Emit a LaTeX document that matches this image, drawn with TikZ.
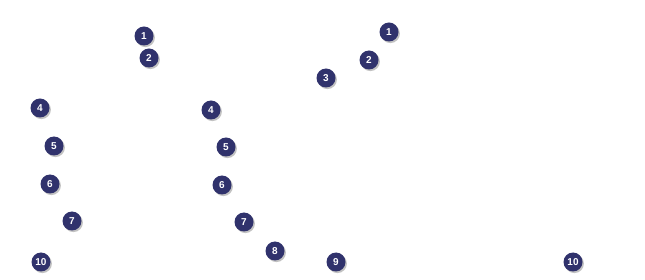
\documentclass[tikz,border=0pt]{standalone}
\usepackage{fontspec}
\setsansfont{Liberation Sans}
\usetikzlibrary{shadows}
\definecolor{badgeblue}{RGB}{48,50,108}

\begin{document}
\begin{tikzpicture}[
  x=1pt, y=-1pt,
  font=\sffamily\bfseries\fontsize{10}{11}\selectfont,
  badge/.style={circle, fill=badgeblue, text=white, minimum size=19pt, inner sep=0pt,
    drop shadow={shadow xshift=1.4pt, shadow yshift=-1.6pt, fill=black!40, opacity=0.6}}
]
  \useasboundingbox (0,0) rectangle (645,280);

  % left column
  \node[badge] (la1) at (144,36) {1};
  \node[badge] (la2) at (149,58) {2};
  \node[badge] (la4) at (40,108) {4};
  \node[badge] (la5) at (54,146) {5};
  \node[badge] (la6) at (50,184) {6};
  \node[badge] (la7) at (72,221) {7};
  \node[badge] (la10) at (41,262) {10};

  % middle column
  \node[badge] (mb4) at (211,110) {4};
  \node[badge] (mb5) at (226,147) {5};
  \node[badge] (mb6) at (222,185) {6};
  \node[badge] (mb7) at (244,222) {7};
  \node[badge] (mb8) at (275,251) {8};
  \node[badge] (mb9) at (336,262) {9};

  % right group
  \node[badge] (rc1) at (389,32) {1};
  \node[badge] (rc2) at (369,60) {2};
  \node[badge] (rc3) at (326,78) {3};
  \node[badge] (rc10) at (573,262) {10};
\end{tikzpicture}
\end{document}
